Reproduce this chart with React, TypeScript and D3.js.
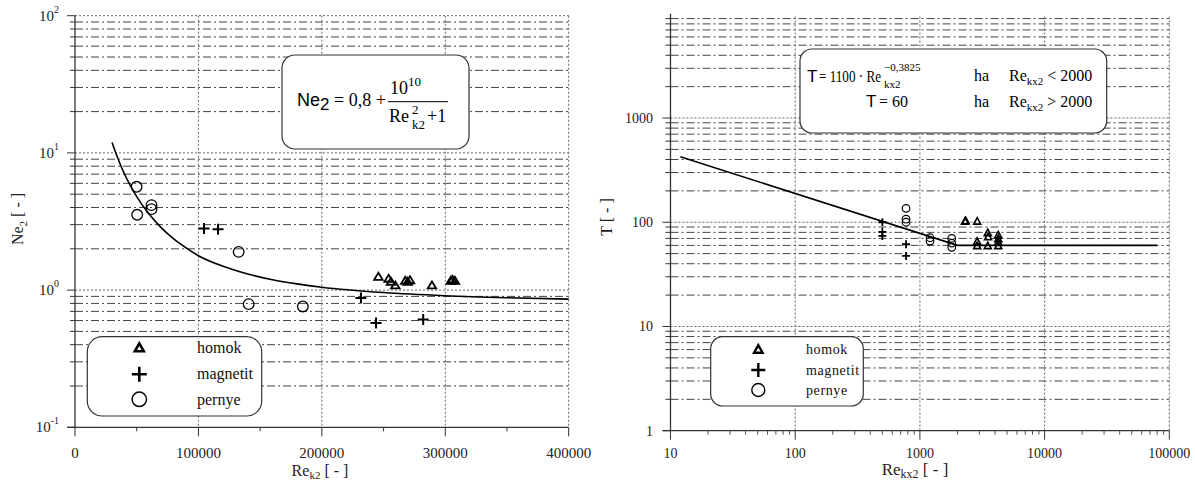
import * as d3 from 'd3';

// ---- left chart: Ne2 vs Re_k2 ----
const leftHomok: [number, number][] = [
  [245800, 1.26], [254100, 1.22], [256000, 1.16], [259500, 1.09], [267600, 1.18],
  [269500, 1.16], [271400, 1.19], [289200, 1.09], [304500, 1.18], [305800, 1.2], [307800, 1.18],
];
const leftMagnetit: [number, number][] = [
  [104500, 2.81], [115900, 2.78], [231700, 0.874], [243900, 0.575], [282100, 0.61],
];
const leftPernye: [number, number][] = [
  [49900, 5.66], [50400, 3.54], [62000, 4.16], [62000, 3.89], [132600, 1.9], [140700, 0.79], [184600, 0.76],
];
// fitted curve
const leftCurve: [number, number][] = [
  [30000, 11.9], [35000, 9.0], [40000, 7.05], [45000, 5.74], [50000, 4.8], [60000, 3.58],
  [70000, 2.84], [80000, 2.36], [90000, 2.03], [100000, 1.78], [120000, 1.49], [140000, 1.31],
  [160000, 1.19], [180000, 1.11], [200000, 1.05], [250000, 0.96], [300000, 0.91], [350000, 0.88],
  [400000, 0.86],
];
const leftXTicks = [0, 100000, 200000, 300000, 400000];
const leftYExps = [-1, 0, 1, 2];

// ---- right chart: T vs Re_kx2 ----
const rightHomok: [number, number][] = [
  [2300, 103], [2330, 104], [2880, 103], [2880, 66], [2880, 60],
  [3500, 80], [3520, 73], [3500, 60], [4250, 76], [4250, 70], [4250, 65], [4250, 60],
];
const rightMagnetit: [number, number][] = [
  [500, 100], [500, 81], [500, 74], [774, 61.5], [774, 47.5],
];
const rightPernye: [number, number][] = [
  [774, 136], [774, 107], [774, 100], [1205, 71], [1205, 66], [1800, 70], [1800, 63], [1800, 57.5],
];
const rightCurve: [number, number][] = [[12, 425], [2000, 60], [80000, 60]];
const rightXTicks = [10, 100, 1000, 10000, 100000];
const rightYTicks = [1, 10, 100, 1000];

const legendLabels = ['homok', 'magnetit', 'pernye'];

const SERIF = '"Liberation Serif", "Times New Roman", Times, serif';
const SANS = '"Liberation Sans", Arial, sans-serif';
const MINOR_DASH = '8 3 2 3';

const isDecade = (v: number) => Math.abs(Math.log10(v) - Math.round(Math.log10(v))) < 1e-6;

function Tri({ x, y, w, h, sw }: { x: number; y: number; w: number; h: number; sw: number }) {
  return <path d={`M${x},${y - h / 2}L${x + w / 2},${y + h / 2}L${x - w / 2},${y + h / 2}Z`}
    fill="none" stroke="#000" strokeWidth={sw} />;
}
function Plus({ x, y, s, sw }: { x: number; y: number; s: number; sw: number }) {
  return <path d={`M${x - s / 2},${y}H${x + s / 2}M${x},${y - s / 2}V${y + s / 2}`} stroke="#000" strokeWidth={sw} />;
}
function Circ({ x, y, r, sw }: { x: number; y: number; r: number; sw: number }) {
  return <circle cx={x} cy={y} r={r} fill="none" stroke="#000" strokeWidth={sw} />;
}

export default function App() {
  // scales
  const xL = d3.scaleLinear().domain([0, 400000]).range([75, 568.7]);
  const yL = d3.scaleLog().domain([0.1, 100]).range([427.3, 15.7]);
  const xR = d3.scaleLog().domain([10, 100000]).range([670.5, 1169.3]);
  const yR = d3.scaleLog().domain([1, 10000]).range([430.7, 13.8]);

  const yLgrid = yL.ticks().filter(v => v > 0.1 + 1e-9);
  const yRgrid = yR.ticks().filter(v => v > 1 && v < 10000);
  const xRminor = xR.ticks().filter(v => !isDecade(v));
  const leftMinorX = d3.range(50000, 400000, 100000);

  const lineL = d3.line<[number, number]>().x(d => xL(d[0])).y(d => yL(d[1])).curve(d3.curveMonotoneX);
  const lineR = d3.line<[number, number]>().x(d => xR(d[0])).y(d => yR(d[1]));

  const [lx0, lx1] = xL.range();
  const [ly0, ly1] = yL.range();
  const [rx0, rx1] = xR.range();
  const [ry0] = yR.range();

  return (
    <svg width={1195} height={483} style={{ position: 'absolute', left: 0, top: 0, background: '#fff', fontFamily: SERIF }}>
      {/* ===== LEFT ===== */}
      <g>
        {yLgrid.map(v => (
          <line key={'lg' + v} x1={lx0} x2={lx1} y1={yL(v)} y2={yL(v)}
            stroke={isDecade(v) ? '#666' : '#444'} strokeWidth={1}
            strokeDasharray={isDecade(v) ? '2 2' : MINOR_DASH} />
        ))}
        {leftXTicks.slice(1).map(v => (
          <line key={'lv' + v} x1={xL(v)} x2={xL(v)} y1={ly1} y2={ly0} stroke="#666" strokeDasharray="2 2" />
        ))}
        {/* axes */}
        <line x1={lx0} x2={lx0} y1={ly1} y2={ly0} stroke="#333" strokeWidth={1.3} />
        <line x1={lx0 - 8} x2={lx1} y1={ly0} y2={ly0} stroke="#333" strokeWidth={1.3} />
        {yL.ticks().map(v => (
          <line key={'lyt' + v} x1={lx0 - (isDecade(v) ? 8 : 5)} x2={lx0} y1={yL(v)} y2={yL(v)} stroke="#333" />
        ))}
        {leftXTicks.map(v => (
          <line key={'lxt' + v} x1={xL(v)} x2={xL(v)} y1={ly0} y2={ly0 + 9} stroke="#333" />
        ))}
        {leftMinorX.map(v => (
          <line key={'lxm' + v} x1={xL(v)} x2={xL(v)} y1={ly0} y2={ly0 + 4} stroke="#333" />
        ))}
        {leftYExps.map(e => (
          <text key={'lyl' + e} x={59} y={yL(Math.pow(10, e)) + 5} textAnchor="end" fontSize={15} fill="#222">
            10<tspan dy={-8} fontSize={10}>{e}</tspan>
          </text>
        ))}
        {leftXTicks.map(v => (
          <text key={'lxl' + v} x={xL(v)} y={458} textAnchor="middle" fontSize={15} fill="#222">{v}</text>
        ))}
        <text x={320} y={476} textAnchor="middle" fontSize={16} fill="#222">
          Re<tspan dy={3} fontSize={11}>k2</tspan><tspan dy={-3}> [ - ]</tspan>
        </text>
        <text transform={`translate(23,${219}) rotate(-90)`} textAnchor="middle" fontSize={16} fill="#222">
          Ne<tspan dy={4} fontSize={11}>2</tspan><tspan dy={-4}> [ - ]</tspan>
        </text>

        <path d={lineL(leftCurve) ?? ''} fill="none" stroke="#000" strokeWidth={1.6} />
        {leftPernye.map((d, i) => <Circ key={'lp' + i} x={xL(d[0])} y={yL(d[1])} r={5.3} sw={1.3} />)}
        {leftMagnetit.map((d, i) => <Plus key={'lm' + i} x={xL(d[0])} y={yL(d[1])} s={11} sw={2} />)}
        {leftHomok.map((d, i) => <Tri key={'lh' + i} x={xL(d[0])} y={yL(d[1])} w={8.5} h={7} sw={1.8} />)}

        {/* formula box */}
        <rect x={282} y={55} width={187} height={94} rx={13} fill="#fff" stroke="#333" strokeWidth={1.2} />
        <text x={297} y={106} fontSize={18} fontFamily={SANS}>Ne<tspan fontSize={17} dy={4}>2</tspan></text>
        <text x={334} y={106} fontSize={18}>= 0,8 +</text>
        <text x={390} y={94} fontSize={18}>10<tspan dy={-8} fontSize={13}>10</tspan></text>
        <line x1={388} x2={448} y1={101.7} y2={101.7} stroke="#000" strokeWidth={1} />
        <text x={389} y={122} fontSize={18}>Re</text>
        <text x={412} y={114} fontSize={13}>2</text>
        <text x={412} y={129} fontSize={13}>k2</text>
        <text x={427} y={122} fontSize={18}>+1</text>

        {/* legend */}
        <rect x={87.3} y={336.7} width={174.4} height={79.3} rx={15} fill="#fff" stroke="#333" strokeWidth={1.2} />
        <Tri x={139.3} y={347.3} w={9} h={8} sw={2.6} />
        <Plus x={139.3} y={374.3} s={15} sw={2.6} />
        <Circ x={139.3} y={399.3} r={7.2} sw={1.5} />
        {legendLabels.map((t, i) => (
          <text key={'ll' + t} x={197} y={353 + i * 26} fontSize={16} fill="#111">{t}</text>
        ))}
      </g>

      {/* ===== RIGHT ===== */}
      <g>
        {yRgrid.map(v => (
          <line key={'rg' + v} x1={rx0} x2={rx1} y1={yR(v)} y2={yR(v)}
            stroke={isDecade(v) ? '#666' : '#444'} strokeWidth={1}
            strokeDasharray={isDecade(v) ? '2 2' : MINOR_DASH} />
        ))}
        {rightXTicks.slice(1).map(v => (
          <line key={'rv' + v} x1={xR(v)} x2={xR(v)} y1={yR(9000) - 2} y2={ry0} stroke="#666" strokeDasharray="2 2" />
        ))}
        <line x1={rx0} x2={rx0} y1={yR(10000)} y2={ry0} stroke="#333" strokeWidth={1.3} />
        <line x1={rx0 - 8} x2={rx1} y1={ry0} y2={ry0} stroke="#333" strokeWidth={1.3} />
        {yR.ticks().filter(v => v < 10000).map(v => (
          <line key={'ryt' + v} x1={rx0 - (isDecade(v) ? 8 : 5)} x2={rx0} y1={yR(v)} y2={yR(v)} stroke="#333" />
        ))}
        {rightXTicks.map(v => (
          <line key={'rxt' + v} x1={xR(v)} x2={xR(v)} y1={ry0} y2={ry0 + 9} stroke="#333" />
        ))}
        {xRminor.map(v => (
          <line key={'rxm' + v} x1={xR(v)} x2={xR(v)} y1={ry0} y2={ry0 + 4} stroke="#555" />
        ))}
        {rightYTicks.map(v => (
          <text key={'ryl' + v} x={653} y={yR(v) + 5} textAnchor="end" fontSize={14} fill="#222">{v}</text>
        ))}
        {rightXTicks.map(v => (
          <text key={'rxl' + v} x={xR(v)} y={458} textAnchor="middle" fontSize={14} fill="#222">{v}</text>
        ))}
        <text x={915} y={475} textAnchor="middle" fontSize={17} fill="#222">
          Re<tspan dy={3} fontSize={12}>kx2</tspan><tspan dy={-3}> [ - ]</tspan>
        </text>
        <text transform={`translate(612,${217}) rotate(-90)`} textAnchor="middle" fontSize={16} fill="#222">T [ - ]</text>

        <path d={lineR(rightCurve) ?? ''} fill="none" stroke="#000" strokeWidth={1.6} />
        {rightPernye.map((d, i) => <Circ key={'rp' + i} x={xR(d[0])} y={yR(d[1])} r={3.8} sw={1.2} />)}
        {rightMagnetit.map((d, i) => <Plus key={'rm' + i} x={xR(d[0])} y={yR(d[1])} s={8} sw={1.8} />)}
        {rightHomok.map((d, i) => <Tri key={'rh' + i} x={xR(d[0])} y={yR(d[1])} w={7} h={6.5} sw={1.6} />)}

        {/* formula box */}
        <rect x={800} y={49} width={306.7} height={84} rx={12} fill="#fff" stroke="#333" strokeWidth={1.2} />
        <text x={807} y={82} fontSize={17} fontFamily={SANS}>T</text>
        <text x={819} y={82} fontSize={16} textLength={62} lengthAdjust="spacingAndGlyphs">= 1100 · Re</text>
        <text x={884} y={71} fontSize={11}>−0,3825</text>
        <text x={884} y={88} fontSize={11}>kx2</text>
        <text x={974} y={81} fontSize={16}>ha</text>
        <text x={1009} y={81} fontSize={16}>Re<tspan dy={4} fontSize={11}>kx2</tspan><tspan dy={-4}> &lt; 2000</tspan></text>
        <text x={866} y={107} fontSize={17} fontFamily={SANS}>T</text>
        <text x={879} y={107} fontSize={16}>= 60</text>
        <text x={974} y={107} fontSize={16}>ha</text>
        <text x={1009} y={107} fontSize={16}>Re<tspan dy={4} fontSize={11}>kx2</tspan><tspan dy={-4}> &gt; 2000</tspan></text>

        {/* legend */}
        <rect x={710.7} y={336.7} width={152.6} height={69.3} rx={12} fill="#fff" stroke="#333" strokeWidth={1.2} />
        <Tri x={758.3} y={349} w={8.5} h={7.5} sw={2.4} />
        <Plus x={758.3} y={370} s={14} sw={2.4} />
        <Circ x={758.3} y={390} r={6.5} sw={1.4} />
        {legendLabels.map((t, i) => (
          <text key={'rl' + t} x={806} y={354 + i * 20.5} fontSize={14} letterSpacing={0.6} fill="#111">{t}</text>
        ))}
      </g>
    </svg>
  );
}
